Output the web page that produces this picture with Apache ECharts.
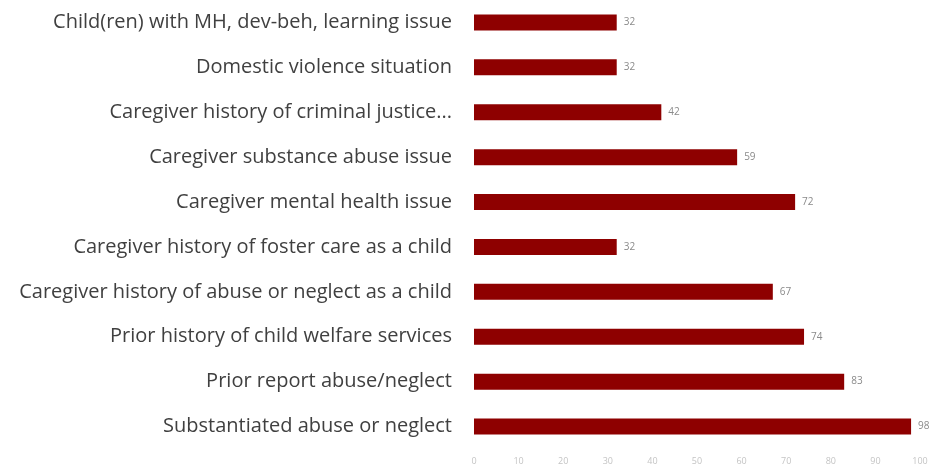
<!DOCTYPE html>
<html>
<head>
<meta charset="utf-8">
<script src="https://cdn.jsdelivr.net/npm/echarts@6/dist/echarts.min.js"></script>
<style>
  html, body { margin: 0; padding: 0; background: #fff; }
  #chart { width: 935px; height: 474px; }
</style>
</head>
<body>
<div id="chart"></div>
<script>
// Risk factors, listed bottom-to-top as the category axis draws them
const categories = [
  "Substantiated abuse or neglect",
  "Prior report abuse/neglect",
  "Prior history of child welfare services",
  "Caregiver history of abuse or neglect as a child",
  "Caregiver history of foster care as a child",
  "Caregiver mental health issue",
  "Caregiver substance abuse issue",
  "Caregiver history of criminal justice...",
  "Domestic violence situation",
  "Child(ren) with MH, dev-beh, learning issue"
];
const percentages = [98, 83, 74, 67, 32, 72, 59, 42, 32, 32];
const xTicks = [0, 10, 20, 30, 40, 50, 60, 70, 80, 90, 100];

const chart = echarts.init(document.getElementById("chart"));
chart.setOption({
  animation: false,
  backgroundColor: "#ffffff",
  grid: { left: 474, right: 15, top: -2, bottom: 25, containLabel: false },
  xAxis: {
    type: "value",
    min: xTicks[0],
    max: xTicks[xTicks.length - 1],
    interval: 10,
    axisLine: { show: false },
    axisTick: { show: false },
    splitLine: { show: false },
    axisLabel: {
      color: "#c4c4c4",
      fontSize: 9,
      fontFamily: "Open Sans",
      margin: 8
    }
  },
  yAxis: {
    type: "category",
    data: categories,
    axisLine: { show: false },
    axisTick: { show: false },
    axisLabel: {
      color: "#404040",
      fontSize: 20,
      fontFamily: "Open Sans",
      margin: 22
    }
  },
  series: [{
    type: "bar",
    data: percentages,
    barWidth: 16,
    itemStyle: { color: "#8e0000" },
    label: {
      show: true,
      position: "right",
      distance: 7,
      color: "#8a8a8a",
      fontSize: 10,
      fontFamily: "Open Sans"
    }
  }]
});
</script>
</body>
</html>
